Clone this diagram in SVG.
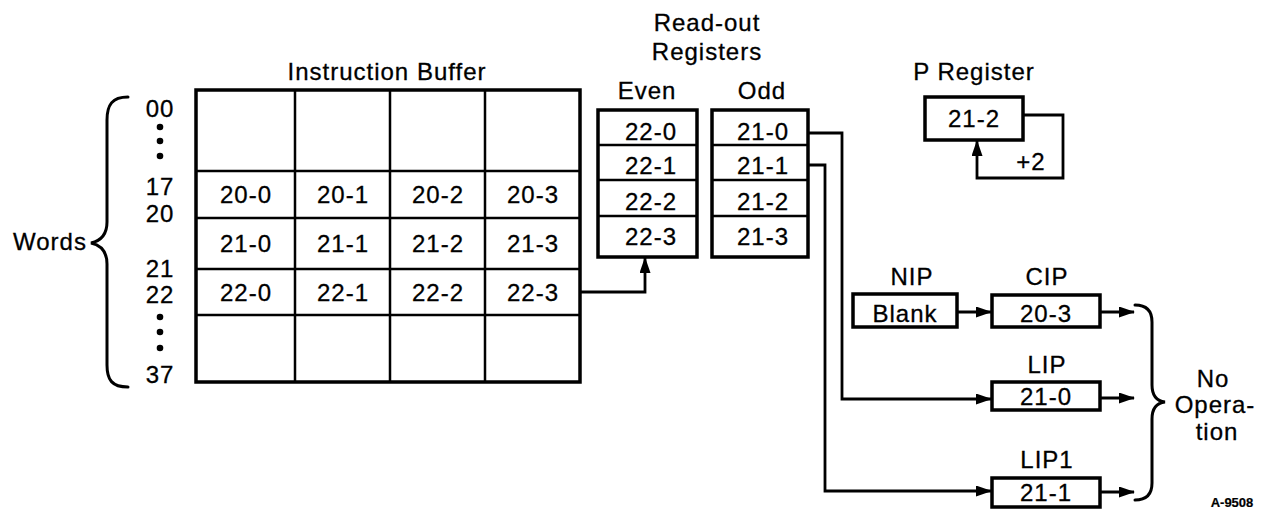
<svg xmlns="http://www.w3.org/2000/svg" width="1266" height="515" viewBox="0 0 1266 515">
<style>
  text { font-family: "Liberation Sans", Arial, sans-serif; font-size: 24px; letter-spacing: 1px; fill: #000; stroke: #000; stroke-width: 0.3px; }
  .c { text-anchor: middle; }
  .box { fill: #fff; stroke: #000; stroke-width: 3.5; }
  .div { stroke: #000; stroke-width: 2.5; fill: none; }
  .wire { stroke: #000; stroke-width: 2.8; fill: none; }
  .brace { stroke: #000; stroke-width: 3; fill: none; stroke-linecap: round; }
  .small { font-size: 13px; font-weight: bold; letter-spacing: 0; stroke-width: 0.2px; }
</style>
<defs>
  <marker id="arr" viewBox="0 0 16 11" refX="15" refY="5.5" markerWidth="16" markerHeight="11" markerUnits="userSpaceOnUse" orient="auto">
    <path d="M0,0 L16,5.5 L0,11 Z" fill="#000"/>
  </marker>
</defs>
<rect width="1266" height="515" fill="#fff"/>

<g id="word-labels">
  <text x="50" y="250" class="c">Words</text>
  <path class="brace" d="M128,97 C112,97 107,105 107,120 V222 C107,235 100,241 91,243 C100,245 107,251 107,264 V365 C107,380 112,387 128,387"/>
  <text x="160" y="117" class="c">00</text>
  <circle cx="160" cy="127" r="3.3"/>
  <circle cx="160" cy="141" r="3.3"/>
  <circle cx="160" cy="156" r="3.3"/>
  <text x="160" y="195" class="c">17</text>
  <text x="160" y="222" class="c">20</text>
  <text x="160" y="277" class="c">21</text>
  <text x="160" y="303" class="c">22</text>
  <circle cx="160" cy="317" r="3.3"/>
  <circle cx="160" cy="332" r="3.3"/>
  <circle cx="160" cy="348" r="3.3"/>
  <text x="160" y="383" class="c">37</text>
</g>

<g id="instruction-buffer">
  <text x="387" y="80" class="c">Instruction Buffer</text>
  <rect class="box" x="196" y="90" width="384" height="292"/>
  <path class="div" d="M295,90 V382 M390,90 V382 M485,90 V382 M196,171 H580 M196,218 H580 M196,269 H580 M196,315 H580"/>
  <text x="246" y="203" class="c">20-0</text>
  <text x="343" y="203" class="c">20-1</text>
  <text x="438" y="203" class="c">20-2</text>
  <text x="533" y="203" class="c">20-3</text>
  <text x="246" y="252" class="c">21-0</text>
  <text x="343" y="252" class="c">21-1</text>
  <text x="438" y="252" class="c">21-2</text>
  <text x="533" y="252" class="c">21-3</text>
  <text x="246" y="301" class="c">22-0</text>
  <text x="343" y="301" class="c">22-1</text>
  <text x="438" y="301" class="c">22-2</text>
  <text x="533" y="301" class="c">22-3</text>
</g>

<g id="readout-title">
  <text x="707" y="31" class="c">Read-out</text>
  <text x="707" y="60" class="c">Registers</text>
</g>

<g id="even-register">
  <text x="647" y="99" class="c">Even</text>
  <rect class="box" x="598" y="110" width="99" height="147"/>
  <path class="div" d="M598,145 H697 M598,180 H697 M598,216 H697"/>
  <text x="651" y="140" class="c">22-0</text>
  <text x="651" y="174" class="c">22-1</text>
  <text x="651" y="210" class="c">22-2</text>
  <text x="651" y="245" class="c">22-3</text>
</g>

<g id="odd-register">
  <text x="762" y="99" class="c">Odd</text>
  <rect class="box" x="712" y="110" width="96" height="147"/>
  <path class="div" d="M712,145 H808 M712,180 H808 M712,216 H808"/>
  <text x="763" y="140" class="c">21-0</text>
  <text x="763" y="174" class="c">21-1</text>
  <text x="763" y="210" class="c">21-2</text>
  <text x="763" y="245" class="c">21-3</text>
</g>

<g id="p-register">
  <text x="974" y="80" class="c">P Register</text>
  <rect class="box" x="925" y="97" width="98" height="43"/>
  <text x="974" y="127" class="c">21-2</text>
  <text x="1031" y="170" class="c">+2</text>
</g>

<g id="nip">
  <text x="912" y="285" class="c">NIP</text>
  <rect class="box" x="853" y="294" width="104" height="33"/>
  <text x="905" y="322" class="c">Blank</text>
</g>

<g id="cip">
  <text x="1047" y="285" class="c">CIP</text>
  <rect class="box" x="992" y="295" width="108" height="32"/>
  <text x="1046" y="322" class="c">20-3</text>
</g>

<g id="lip">
  <text x="1047" y="373" class="c">LIP</text>
  <rect class="box" x="992" y="382" width="108" height="28"/>
  <text x="1046" y="405" class="c">21-0</text>
</g>

<g id="lip1">
  <text x="1047" y="468" class="c">LIP1</text>
  <rect class="box" x="992" y="478" width="108" height="29"/>
  <text x="1046" y="501" class="c">21-1</text>
</g>

<g id="no-operation">
  <path class="brace" d="M1135,305 C1147,305 1152,311 1152,322 V385 C1152,396 1157,401 1165,402 C1157,403 1152,408 1152,419 V483 C1152,494 1147,500 1135,500"/>
  <text x="1213" y="387" class="c">No</text>
  <text x="1215" y="413" class="c">Opera-</text>
  <text x="1217" y="440" class="c">tion</text>
</g>

<g id="connectors">
  <path class="wire" d="M580,292 H645 V258" marker-end="url(#arr)"/>
  <path class="wire" d="M808,133 H842 V399 H991" marker-end="url(#arr)"/>
  <path class="wire" d="M808,165 H825 V491 H991" marker-end="url(#arr)"/>
  <path class="wire" d="M957,312 H991" marker-end="url(#arr)"/>
  <path class="wire" d="M1100,312 H1134" marker-end="url(#arr)"/>
  <path class="wire" d="M1100,398 H1134" marker-end="url(#arr)"/>
  <path class="wire" d="M1100,492 H1134" marker-end="url(#arr)"/>
  <path class="wire" d="M1023,115 H1063 V178 H977 V141" marker-end="url(#arr)"/>
</g>

<text x="1232" y="507" class="c small">A-9508</text>
</svg>
